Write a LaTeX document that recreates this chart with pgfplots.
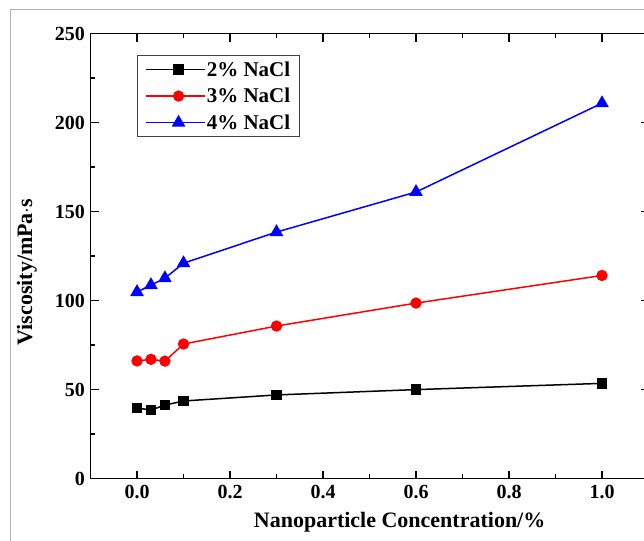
\documentclass[border=0pt]{standalone}
\usepackage{pgfplots}
\pgfplotsset{compat=1.18}
\usepackage{fontspec}
\setmainfont{Liberation Serif}
\begin{document}
\begin{tikzpicture}
\clip (0pt,0pt) rectangle (644pt,540pt);
\useasboundingbox (0pt,0pt) rectangle (644pt,540pt);
\draw[black!30, line width=1pt] (10pt,-20pt) -- (10pt,530pt) -- (700pt,530pt);
\begin{axis}[
  at={(90.5pt,61.4pt)}, anchor=south west,
  scale only axis, width=558pt, height=445pt,
  xmin=-0.1, xmax=1.1, ymin=0, ymax=250,
  xtick={0,0.2,0.4,0.6,0.8,1.0},
  ytick={0,50,100,150,200,250},
  minor x tick num=1, minor y tick num=1,
  tick align=inside,
  major tick length=8pt, minor tick length=4.5pt,
  axis line style={line width=1.6pt},
  every tick/.style={line width=1.2pt, black},
  xticklabel style={/pgf/number format/fixed, /pgf/number format/fixed zerofill, /pgf/number format/precision=1},
  /pgf/number format/assume math mode=true,
  tick label style={font=\fontsize{20}{24}\selectfont\bfseries},
  xticklabel style={yshift=-3pt},
  yticklabel style={xshift=-2pt},
  xlabel={Nanoparticle Concentration/\%},
  ylabel={Viscosity/mPa$\cdot$s},
  label style={font=\fontsize{22}{26}\selectfont\bfseries},
  xlabel style={at={(axis description cs:0.554,-0.0975)}, anchor=center},
  ylabel style={at={(axis description cs:-0.114,0.464)}, anchor=center},
  legend style={at={(rel axis cs:0.083,0.952)}, anchor=north west,
    draw=black!75, line width=1pt, font=\fontsize{21}{25}\selectfont\bfseries,
    inner xsep=8pt, inner ysep=5pt, row sep=8.5pt,
    nodes={inner sep=1pt}},
  legend cell align=left,
  legend image code/.code={
    \path (0pt,0pt) -- (59pt,0pt);
    \draw[#1, mark repeat=2, mark phase=2] plot coordinates {(10pt,0pt) (32.5pt,0pt) (55pt,0pt)};
  },
]
\addplot[black, line width=1.5pt, mark=square*, mark size=4.5pt, mark options={solid}] coordinates {
(0,39.7) (0.03,38.5) (0.06,41.3) (0.1,43.6) (0.3,47.0) (0.6,50.0) (1.0,53.5)};
\addlegendentry{2\% NaCl}
\addplot[red, line width=1.5pt, mark=*, mark size=4.9pt, mark options={solid}] coordinates {
(0,66.1) (0.03,67.0) (0.06,66.0) (0.1,75.6) (0.3,85.7) (0.6,98.6) (1.0,114.1)};
\addlegendentry{3\% NaCl}
\addplot[blue, line width=1.5pt, mark=triangle*, mark size=6.4pt, mark options={solid}] coordinates {
(0,104.8) (0.03,108.7) (0.06,112.6) (0.1,121.0) (0.3,138.5) (0.6,161.0) (1.0,210.9)};
\addlegendentry{4\% NaCl}
\end{axis}
\end{tikzpicture}
\end{document}
